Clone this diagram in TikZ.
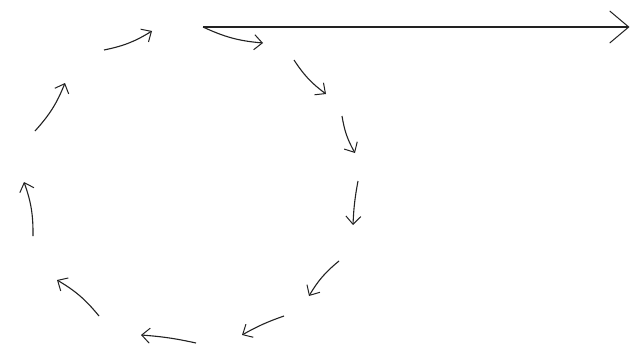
\documentclass[tikz,border=0pt]{standalone}
\usetikzlibrary{arrows.meta}
\definecolor{ink}{RGB}{34,34,34}
\tikzset{
  cyc/.style={draw=ink, line width=1.1pt, -{Straight Barb[length=8pt,width=15pt,line width=1pt]}, bend right=10},
  longarrow/.style={draw=ink, line width=1.1pt, -{Straight Barb[length=19pt,width=32pt,line width=1pt]}}
}
\begin{document}
\begin{tikzpicture}[x=1pt,y=-1pt]
\useasboundingbox[fill=white] (0,0) rectangle (630,356);
% arrow endpoints
\coordinate (a1) at (104,50);  \coordinate (b1) at (152,31);
\coordinate (a2) at (203,27);  \coordinate (b2) at (263,43);
\coordinate (a4) at (294,60);  \coordinate (b4) at (326,94);
\coordinate (a5) at (342,116); \coordinate (b5) at (355,153);
\coordinate (a6) at (358,181); \coordinate (b6) at (353,225);
\coordinate (a7) at (339,261); \coordinate (b7) at (309,296);
\coordinate (a8) at (284,316); \coordinate (b8) at (242,335);
\coordinate (a9) at (196,343); \coordinate (b9) at (141,335);
\coordinate (a10) at (99,316); \coordinate (b10) at (57,280);
\coordinate (a11) at (33,236); \coordinate (b11) at (24,182);
\coordinate (a12) at (35,131); \coordinate (b12) at (65,83);
\coordinate (e) at (629.5,27);
% long horizontal arrow
\draw[longarrow] (a2) -- (e);
% circle of arrows
\draw[cyc] (a1) to (b1);
\draw[cyc] (a2) to (b2);
\draw[cyc] (a4) to (b4);
\draw[cyc] (a5) to (b5);
\draw[cyc,bend right=4] (a6) to (b6);
\draw[cyc] (a7) to (b7);
\draw[cyc,bend right=5] (a8) to (b8);
\draw[cyc,bend right=4] (a9) to (b9);
\draw[cyc] (a10) to (b10);
\draw[cyc] (a11) to (b11);
\draw[cyc] (a12) to (b12);
\end{tikzpicture}
\end{document}
